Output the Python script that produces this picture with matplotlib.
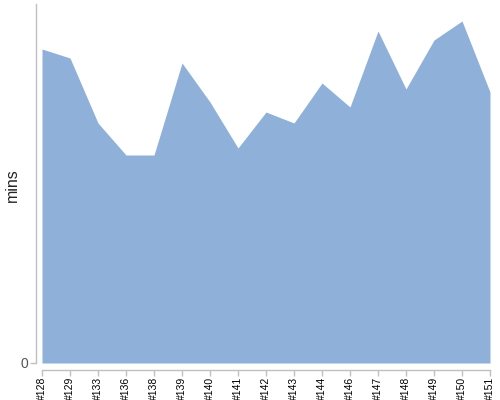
import matplotlib
matplotlib.use("Agg")
import matplotlib.pyplot as plt

plt.rcParams['font.family'] = ['Liberation Sans', 'DejaVu Sans']

builds = ["#128", "#129", "#133", "#136", "#138", "#139", "#140", "#141", "#142",
          "#143", "#144", "#146", "#147", "#148", "#149", "#150", "#151"]
mins = [314, 305, 240, 208, 208, 300, 261, 215, 251, 240, 280, 256, 332, 274, 323, 342, 271]

fig = plt.figure(figsize=(5, 4), dpi=100)
ax = fig.add_axes([42/500, 37/400, 448/500, 359/400])
x = list(range(len(builds)))
ax.fill_between(x, mins, 0, color="#8fb1d9", linewidth=0)
ax.set_xlim(0, len(builds) - 1)
ax.set_ylim(0, 359)

ax.spines['top'].set_visible(False)
ax.spines['right'].set_visible(False)
ax.spines['left'].set_position(('outward', 4))
ax.spines['bottom'].set_position(('outward', 5))
for s in ('left', 'bottom'):
    ax.spines[s].set_color('#c0c0c0')
    ax.spines[s].set_linewidth(1)

ax.set_xticks(x)
ax.set_xticklabels(builds, rotation=90, fontsize=7.5, color='#000000')
ax.set_yticks([0])
ax.set_yticklabels(["0"], fontsize=10, color='#555555')
ax.tick_params(axis='both', color='#c0c0c0', length=4, width=1)
ax.tick_params(axis='x', pad=1)
ax.tick_params(axis='y', pad=2)
ax.set_ylabel("mins", fontsize=11.5, color='#222222')
ax.yaxis.set_label_coords(-0.05, 0.496)

fig.savefig("out.png", dpi=100)
